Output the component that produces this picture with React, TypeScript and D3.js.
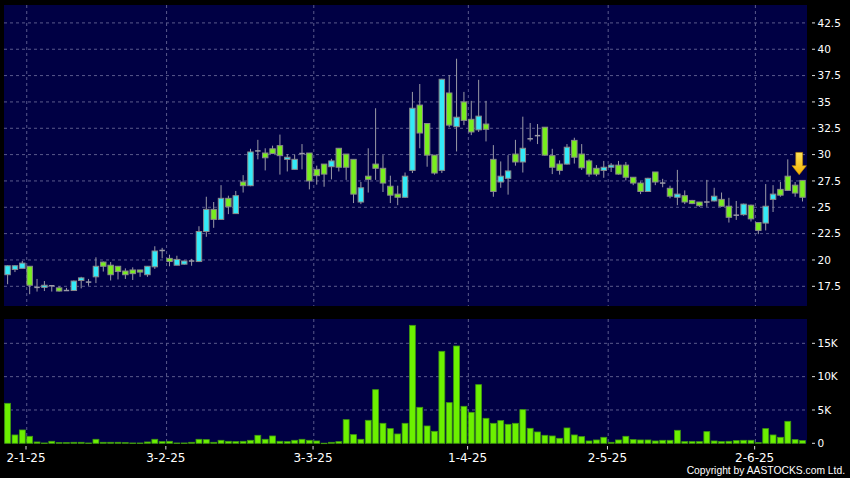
import React from "react";
import * as d3 from "d3";

// ---- Data ----
const openP = [18.6,19.1,19.2,19.4,17.4,17.4,17.55,17.35,17.1,17.1,18.05,17.9,18.4,19.8,19.5,19.4,18.95,19.05,19.05,18.6,19.35,20.9,20.15,19.5,19.6,19.9,19.85,22.7,24.8,23.85,25.85,24.4,27.4,27.05,30.35,30.15,30.55,30.85,29.55,28.6,30.1,30.15,28.6,29.1,28.85,30.6,30.05,29.55,25.5,27.95,29.1,28.7,27.0,26.25,25.95,28.5,34.7,32.95,29.95,28.5,35.85,32.65,35.0,33.35,32.35,32.9,29.55,27.4,27.75,30.05,29.3,31.5,31.8,32.6,29.9,29.1,29.1,31.35,30.05,29.4,28.7,28.5,28.8,29.0,29.0,27.85,27.3,26.5,28.35,27.3,26.8,25.95,26.1,25.65,25.5,25.5,25.6,25.75,25.1,24.25,24.3,25.2,23.55,23.5,25.75,26.7,27.95,27.1,27.55];
const highP = [19.5,19.5,19.9,19.4,18.2,18.0,17.6,17.5,17.35,18.05,18.4,18.2,20.25,19.85,19.8,19.4,19.2,19.3,19.05,19.4,21.3,21.15,20.5,20.4,19.95,20.1,23.2,26.0,25.5,27.1,26.1,26.55,28.05,30.55,31.4,30.6,30.85,31.9,30.05,30.0,31.0,30.15,28.95,29.1,29.6,30.6,30.05,29.55,27.4,30.6,34.4,29.95,28.0,27.05,28.3,35.95,36.7,32.95,29.95,37.2,37.55,39.1,35.95,35.1,37.1,35.1,30.9,29.35,29.95,31.4,33.6,33.0,32.9,32.6,30.55,29.45,31.0,31.6,31.0,29.55,29.0,29.4,29.2,29.4,29.3,27.85,27.45,27.8,28.35,27.7,27.05,28.55,26.6,25.7,25.5,27.6,26.85,26.4,25.9,25.6,25.35,25.25,23.55,27.2,27.1,27.4,29.55,27.4,27.55];
const lowP = [17.7,18.85,19.2,16.75,17.0,17.05,17.0,17.0,17.1,17.1,17.3,17.55,17.8,18.9,18.05,18.15,18.2,18.1,18.4,18.4,19.15,20.15,19.4,19.5,19.55,19.45,19.8,22.2,23.05,23.8,24.35,24.4,26.4,27.0,29.55,28.5,30.05,28.1,28.4,28.6,28.6,26.7,27.15,26.95,27.65,28.4,27.6,25.4,25.3,26.4,27.6,26.45,25.4,25.2,25.9,28.25,30.6,28.85,28.1,28.25,32.6,30.3,32.8,31.85,32.15,31.25,26.0,26.85,26.2,28.95,28.3,31.25,31.0,29.9,28.15,28.1,29.05,29.15,28.55,27.9,27.95,27.8,28.35,28.1,27.55,27.1,26.25,26.5,27.1,26.9,25.85,25.2,25.3,25.3,25.05,25.05,25.55,25.05,23.55,23.8,24.2,23.65,22.45,22.8,24.55,26.0,26.55,26.0,25.55];
const closeP = [19.45,19.45,19.7,17.6,17.4,17.6,17.55,17.05,17.1,18.0,18.3,17.9,19.4,19.4,18.6,18.9,18.6,18.7,18.85,19.4,20.85,20.9,19.85,20.05,19.9,19.9,22.7,24.8,23.85,25.85,25.05,26.1,27.05,30.25,30.35,29.7,30.1,29.9,29.75,29.55,30.1,27.5,28.0,28.15,29.4,28.8,28.8,26.25,26.85,27.65,28.7,27.3,26.15,25.95,27.95,34.4,32.05,29.95,28.25,37.15,32.8,33.55,33.25,32.15,33.65,32.4,26.5,27.95,28.45,29.3,30.6,31.5,31.8,29.95,28.8,28.5,30.7,29.75,28.75,28.15,28.15,28.8,29.0,28.15,27.85,27.3,26.5,27.75,27.4,27.3,26.05,26.25,25.5,25.35,25.15,25.5,26.05,25.1,24.05,24.25,25.3,23.9,22.8,25.1,26.25,26.15,26.6,26.35,25.95];
const volumeK = [6.0,1.25,2.0,1.05,0.2,0.05,0.3,0.1,0.1,0.15,0.15,0.05,0.6,0.15,0.15,0.15,0.1,0.05,0.05,0.2,0.6,0.25,0.3,0.05,0.05,0.15,0.6,0.55,0.15,0.45,0.3,0.25,0.3,0.45,1.2,0.6,1.1,0.3,0.25,0.45,0.6,0.45,0.35,0.02,0.15,0.25,3.55,1.3,0.6,3.45,8.05,3.0,2.2,1.4,3.0,17.7,5.4,2.6,1.8,13.8,6.1,14.6,5.55,4.65,8.8,3.75,3.0,3.4,2.85,3.0,5.05,2.25,1.7,1.2,1.1,0.75,2.3,1.25,1.0,0.35,0.5,0.9,0.15,0.5,1.05,0.55,0.5,0.5,0.35,0.45,0.45,1.95,0.25,0.25,0.25,1.75,0.35,0.25,0.3,0.4,0.45,0.45,0.1,2.2,1.25,0.9,3.3,0.55,0.4];

const monthLabels = ["2-1-25", "3-2-25", "3-3-25", "1-4-25", "2-5-25", "2-6-25"];
const monthIndex = [2, 21, 41, 62, 81, 101];
const priceTicks = [17.5, 20, 22.5, 25, 27.5, 30, 32.5, 35, 37.5, 40, 42.5];
const volTicks = [0, 5000, 10000, 15000];
const volTickLabels = ["0", "5K", "10K", "15K"];

// ---- Layout / style ----
const W = 850, H = 478;
const pL = 4, pR = 807;
const mTop = 5, mBot = 306;
const vTop = 319, vBot = 443.3;
const BG = "#000044";
const GRID = "#5a5a8c";
const UP = "#33eaf8";
const DOWN = "#78ee1e";
const WICK = "#9a9aa6";
const FONT = "DejaVu Sans, Verdana, sans-serif";

export default function App() {
  const n = openP.length;
  const x = d3.scaleLinear().domain([0, n - 1]).range([pL + 3.6, pR - 4.5]);
  const step = x(1) - x(0);
  const y = d3.scaleLinear().domain([15.63, 44.2]).range([mBot, mTop]);
  const yv = d3.scaleLinear().domain([0, 18650]).range([vBot, vTop]);
  const bodyW = step * 0.74;
  const volW = step * 0.8;

  const last = n - 1;
  const ax = x(last - 0.45);
  const aTip = y(highP[last]) - 5.7;
  const arrowPath = d3.path();
  arrowPath.moveTo(ax - 3.4, aTip - 22.3);
  arrowPath.lineTo(ax + 3.4, aTip - 22.3);
  arrowPath.lineTo(ax + 3.4, aTip - 9);
  arrowPath.lineTo(ax + 7.2, aTip - 9);
  arrowPath.lineTo(ax, aTip);
  arrowPath.lineTo(ax - 7.2, aTip - 9);
  arrowPath.lineTo(ax - 3.4, aTip - 9);
  arrowPath.closePath();

  return (
    <svg width={W} height={H} style={{ position: "absolute", left: 0, top: 0, display: "block" }}>
      <defs>
        <linearGradient id="arrowGrad" x1="0" y1="0" x2="0" y2="1">
          <stop offset="0%" stopColor="#ffe45a" />
          <stop offset="100%" stopColor="#f2b000" />
        </linearGradient>
      </defs>
      <rect x={0} y={0} width={W} height={H} fill="#000" />
      <rect x={pL} y={mTop} width={pR - pL} height={mBot - mTop} fill={BG} />
      <rect x={pL} y={vTop} width={pR - pL} height={vBot - vTop} fill={BG} />

      {/* grids */}
      {priceTicks.map((t) => (
        <line key={"hg" + t} x1={pL} x2={pR} y1={y(t)} y2={y(t)} stroke={GRID} strokeDasharray="3,3" />
      ))}
      {volTicks.slice(1).map((t) => (
        <line key={"vg" + t} x1={pL} x2={pR} y1={yv(t)} y2={yv(t)} stroke={GRID} strokeDasharray="3,3" />
      ))}
      {monthIndex.map((mi) => (
        <g key={"mg" + mi}>
          <line x1={x(mi + 0.6)} x2={x(mi + 0.6)} y1={mTop} y2={mBot} stroke={GRID} strokeDasharray="3,3" />
          <line x1={x(mi + 0.6)} x2={x(mi + 0.6)} y1={vTop} y2={vBot} stroke={GRID} strokeDasharray="3,3" />
        </g>
      ))}

      {/* candles */}
      {openP.map((o, i) => {
        const c = closeP[i];
        const cx = x(i);
        const doji = o === c;
        const up = c > o;
        const top = y(Math.max(o, c));
        const bot = y(Math.min(o, c));
        return (
          <g key={"c" + i}>
            <line x1={cx} x2={cx} y1={y(highP[i])} y2={y(lowP[i])} stroke={WICK} strokeWidth={1} />
            {doji ? (
              <line x1={cx - bodyW / 2} x2={cx + bodyW / 2} y1={top} y2={top} stroke={WICK} strokeWidth={1.5} />
            ) : (
              <rect
                x={cx - bodyW / 2}
                y={top}
                width={bodyW}
                height={Math.max(bot - top, 1.5)}
                fill={up ? UP : DOWN}
                stroke="#8a8a8a"
                strokeWidth={1}
              />
            )}
          </g>
        );
      })}

      {/* volume */}
      {volumeK.map((v, i) => (
        <rect
          key={"v" + i}
          x={x(i) - volW / 2}
          y={yv(v * 1000)}
          width={volW}
          height={Math.max(vBot - yv(v * 1000), 0.5)}
          fill="#6cf000"
          stroke="#3f9a10"
          strokeWidth={0.8}
        />
      ))}

      {/* arrow */}
      <path d={arrowPath.toString()} fill="url(#arrowGrad)" stroke="#c88a00" strokeWidth={0.6} />

      {/* right axis */}
      {priceTicks.map((t) => (
        <g key={"pt" + t}>
          <line x1={812} x2={815} y1={y(t)} y2={y(t)} stroke="#ddd" />
          <text x={817.5} y={y(t)} dy="0.36em" fill="#fff" fontSize={10.5} fontFamily={FONT}>
            {String(t)}
          </text>
        </g>
      ))}
      {volTicks.map((t, k) => (
        <g key={"vt" + t}>
          <line x1={812} x2={815} y1={yv(t)} y2={yv(t)} stroke="#ddd" />
          <text x={817.5} y={yv(t)} dy="0.36em" fill="#fff" fontSize={10.5} fontFamily={FONT}>
            {volTickLabels[k]}
          </text>
        </g>
      ))}

      {/* x axis */}
      {monthIndex.map((mi, k) => (
        <g key={"xt" + mi}>
          <line x1={x(mi + 0.5)} x2={x(mi + 0.5)} y1={446} y2={449.5} stroke="#ddd" />
          <text x={x(mi + 0.5)} y={462} textAnchor="middle" fill="#fff" fontSize={12} fontFamily={FONT}>
            {monthLabels[k]}
          </text>
        </g>
      ))}

      <text x={845} y={473.5} textAnchor="end" fill="#fff" fontSize={10.3} fontFamily="Liberation Sans, Arial, sans-serif">
        Copyright by AASTOCKS.com Ltd.
      </text>
    </svg>
  );
}
